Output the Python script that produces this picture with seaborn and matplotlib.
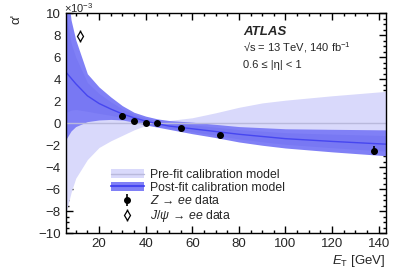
import matplotlib
matplotlib.use('Agg')
import matplotlib.pyplot as plt
import seaborn as sns
import pandas as pd
from matplotlib.patches import Patch
from matplotlib.lines import Line2D
from matplotlib.ticker import MultipleLocator

# x grid of the calibration models (GeV)
et_grid = [6, 8, 10, 15, 20, 25, 30, 35, 40, 45, 50, 60, 70, 80, 90, 100, 120, 143]

# pre-fit model (x 1e-3)
prefit_center = [0, 0, 0, 0, 0, 0, 0, 0, 0, 0, 0, 0, 0, 0, 0, 0, 0, 0]
prefit_up = [8.0, 6.3, 5.0, 3.3, 2.2, 1.6, 1.1, 0.6, 0.2, 0.1, 0.25, 0.5, 0.95, 1.45, 1.85, 2.1, 2.5, 2.9]
prefit_down = [-8.0, -6.3, -5.0, -3.3, -2.2, -1.6, -1.1, -0.6, -0.2, -0.1, -0.25, -0.5, -0.9, -1.3, -1.6, -1.8, -2.2, -2.5]

# post-fit model (x 1e-3)
postfit_center = [4.6, 4.1, 3.6, 2.5, 1.8, 1.3, 0.85, 0.5, 0.2, -0.05, -0.25, -0.5, -0.75, -1.0, -1.2, -1.4, -1.65, -1.9]
postfit_up = [13.0, 9.4, 7.6, 4.5, 3.3, 2.4, 1.6, 1.0, 0.65, 0.4, 0.25, 0.1, -0.1, -0.3, -0.4, -0.5, -0.55, -0.6]
postfit_down = [-1.4, -0.7, -0.3, 0.15, 0.3, 0.35, 0.3, 0.1, -0.15, -0.35, -0.55, -0.95, -1.3, -1.7, -2.0, -2.25, -2.6, -2.95]
postfit_in_up = [9.6, 7.3, 6.0, 3.7, 2.7, 1.95, 1.3, 0.8, 0.47, 0.22, 0.05, -0.14, -0.36, -0.58, -0.72, -0.86, -0.99, -1.12]
postfit_in_down = [1.0, 1.2, 1.26, 1.09, 0.9, 0.73, 0.52, 0.26, -0.01, -0.23, -0.43, -0.77, -1.08, -1.42, -1.68, -1.91, -2.22, -2.53]

# Z -> ee data
z_et = [30, 35, 40, 45, 55, 72, 138]
z_alpha = [0.66, 0.24, 0.0, 0.0, -0.43, -1.1, -2.5]
z_err = [0.3, 0.15, 0.12, 0.12, 0.15, 0.2, 0.4]

# J/psi -> ee data
jpsi_et = [12]
jpsi_alpha = [7.95]
jpsi_err = [0.55]

FONT = ['Liberation Sans', 'DejaVu Sans']

sns.set_style('ticks')
plt.rcParams['font.family'] = FONT
plt.rcParams['mathtext.fontset'] = 'custom'
plt.rcParams['mathtext.rm'] = 'Liberation Sans'
plt.rcParams['mathtext.it'] = 'Liberation Sans:italic'

PRE_FILL = '#d9d9fb'
PRE_LINE = '#b9b9dc'
POST_OUT = '#8080f6'
POST_IN = '#7878f3'
POST_LINE = '#4646f0'

models = pd.DataFrame({'et': et_grid, 'pre': prefit_center, 'post': postfit_center})

fig = plt.figure(figsize=(4.07, 2.77), dpi=100)
ax = fig.add_axes([0.1614, 0.158, 0.7863, 0.794])

ax.fill_between(et_grid, prefit_down, prefit_up, color=PRE_FILL, lw=0)
sns.lineplot(data=models, x='et', y='pre', ax=ax, color=PRE_LINE, lw=1.0)
ax.fill_between(et_grid, postfit_down, postfit_up, color=POST_OUT, lw=0)
ax.fill_between(et_grid, postfit_in_down, postfit_in_up, color=POST_IN, lw=0)
sns.lineplot(data=models, x='et', y='post', ax=ax, color=POST_LINE, lw=1.0)

z = ax.errorbar(z_et, z_alpha, yerr=z_err, fmt='o', color='black', ms=4, elinewidth=1.2, capsize=0)
jp = ax.errorbar(jpsi_et, jpsi_alpha, yerr=jpsi_err, fmt='d', color='black', mfc='white', ms=5,
                 elinewidth=1.0, capsize=0, mew=0.9)

ax.set_xlim(5.7, 143)
ax.set_ylim(-10, 10)
ax.xaxis.set_major_locator(MultipleLocator(20))
ax.xaxis.set_minor_locator(MultipleLocator(5))
ax.yaxis.set_major_locator(MultipleLocator(2))
ax.yaxis.set_minor_locator(MultipleLocator(0.5))
ax.tick_params(which='both', direction='in', top=True, right=True, labelsize=9.5, width=1.0, color='black')
ax.tick_params(which='major', length=5)
ax.tick_params(which='minor', length=2.5)
for s in ax.spines.values():
    s.set_linewidth(1.0)
    s.set_color('black')
ax.set_xlabel('')
ax.set_ylabel('')

fig.text(0.9477, 0.03, r'$E_{\mathrm{T}}$ [GeV]', ha='right', va='bottom', fontsize=9.5)
fig.text(0.04, 0.93, "α'", rotation=90, ha='center', va='center', fontsize=9.5)
fig.text(0.158, 0.946, r'$\times10^{-3}$', ha='left', va='bottom', fontsize=8)

ax.text(0.554, 0.9, 'ATLAS', transform=ax.transAxes, fontsize=9.5, fontweight='bold', style='italic')
ax.text(0.554, 0.828, '√s = 13 TeV, 140 fb$^{-1}$', transform=ax.transAxes, fontsize=8)
ax.text(0.554, 0.752, '0.6 ≤ |η| < 1', transform=ax.transAxes, fontsize=8)

handles = [
    (Patch(color=PRE_FILL, lw=0), Line2D([], [], color=PRE_LINE, lw=1.0)),
    (Patch(color=POST_OUT, lw=0), Line2D([], [], color=POST_LINE, lw=1.5)),
    z,
    jp,
]
labels = ['Pre-fit calibration model', 'Post-fit calibration model',
          r'$Z\,\rightarrow\,ee$ data', r'$J/\psi\,\rightarrow\,ee$ data']
ax.legend(handles, labels, loc='upper left', bbox_to_anchor=(0.125, 0.315), frameon=False,
          fontsize=8.8, handlelength=2.7, handletextpad=0.55, labelspacing=0.06, borderaxespad=0)

fig.savefig('out.png', dpi=100)
